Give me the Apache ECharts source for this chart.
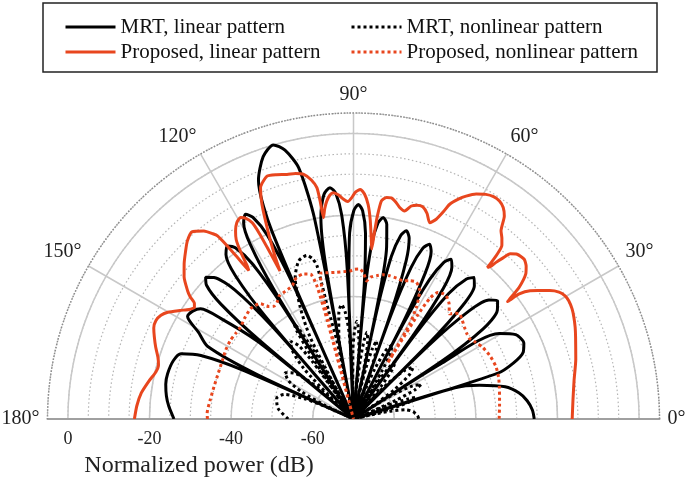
<!DOCTYPE html>
<html>
<head>
<meta charset="utf-8">
<script src="https://cdn.jsdelivr.net/npm/echarts@6/dist/echarts.min.js"></script>
<style>
html,body{margin:0;padding:0;background:#fff;}
#chart{width:692px;height:480px;}
</style>
</head>
<body>
<div id="chart"></div>
<script>
// ---- data: [angle (deg), normalized power (dB)] ----
const seriesNames = ['MRT, linear pattern', 'MRT, nonlinear pattern', 'Proposed, linear pattern', 'Proposed, nonlinear pattern'];
const angleTickLabels = [0, 30, 60, 90, 120, 150, 180];
const radialTickLabels = [0, -20, -40, -60];

const mrtLinear = [
  [180,-26],[176,-24.6],[173,-23.8],[169.5,-23.2],[166.3,-23.1],[162,-23.6],[159.3,-24.8],[157.4,-29.5],[156.2,-40],[155.7,-70],
  [155.2,-44],[153.5,-30],[150.8,-26.5],[148.3,-22.2],[146,-22.6],[144.2,-23.8],[142.7,-30],[141,-39.5],[140.6,-50],[140.4,-70],
  [140.1,-40],[139.1,-27],[137.7,-21.3],[136.2,-19.8],[134.6,-21.3],[132.6,-27],[131.3,-40],[131,-70],
  [130.7,-37.5],[129.5,-24.5],[127.8,-19],[126.1,-17.5],[124.6,-19],[123.1,-24.5],[122.1,-37.5],[121.8,-70],
  [121.6,-33.3],[120.6,-20.3],[119.2,-14.8],[117.8,-13.3],[116.5,-14.8],[115.1,-20.3],[114.2,-33.3],[114,-70],
  [113.5,-20],[111.7,-7],[109,-2],[106.3,0],[104.3,-2],[102.3,-7],[101,-20],[100.6,-70],
  [100.3,-33],[99.2,-20],[97.5,-14.5],[95.8,-13],[94.5,-14.5],[93.3,-20],[92.4,-33],[92.2,-70],
  [92,-37.4],[91.2,-24.4],[89.9,-18.9],[88.7,-17.4],[87.5,-18.9],[86.3,-24.4],[85.4,-37.4],[85.2,-70],
  [85,-40.1],[84.1,-27.1],[82.9,-21.6],[81.6,-20.1],[80.3,-21.6],[79.1,-27.1],[78.2,-40.1],[78,-70],
  [77.8,-42.1],[76.9,-29.1],[75.6,-23.6],[74.3,-22.1],[72.9,-23.6],[71.6,-29.1],[70.6,-42.1],[70.4,-70],
  [70.2,-43.3],[69.2,-30.3],[67.9,-24.8],[66.5,-23.3],[65.1,-24.8],[63.8,-30.3],[62.8,-43.3],[62.6,-70],
  [62.4,-44.1],[61.4,-31.1],[60,-25.6],[58.6,-24.1],[57.1,-25.6],[55.5,-31.1],[54.5,-44.1],[54.2,-70],
  [53.9,-44.4],[52.8,-31.4],[51.1,-25.9],[49.5,-24.4],[47.8,-25.9],[46.1,-31.4],[45,-44.4],[44.7,-70],
  [44.4,-44.3],[43.1,-31.3],[41.3,-25.8],[39.4,-24.3],[37.1,-25.8],[34.8,-31.3],[33.2,-44.3],[32.8,-70],
  [32.3,-44.3],[30.4,-28.6],[27.5,-25.2],[24,-24.3],[21.5,-25.3],[19.3,-28.5],[17.6,-33],[17.3,-70],
  [17.15,-44],[15,-38],[12,-32],[8.9,-28.9],[6,-27.2],[2.9,-26.1],[0,-25.7]
];

const mrtNonlinear = [
  [180,-54],[172,-51.3],[165,-50.5],[160.5,-52],[157.5,-57],[155.8,-64],[155,-70],
  [154.3,-62],[152.3,-55.5],[149.5,-51.5],[146,-49.7],[142.5,-51.5],[139.7,-55.5],[137.7,-62],[137,-70],
  [136.4,-62],[134.5,-52.5],[131.8,-47.5],[129,-45.5],[126.8,-47.5],[125.6,-52.5],[124.8,-62],[124.5,-70],
  [124.2,-58],[123.5,-49.5],[122.8,-44.5],[122,-42.5],[121.2,-44.5],[120.4,-49.5],[119.7,-58],[119.5,-70],
  [119.3,-60],[117.9,-47.3],[115.5,-39.7],[112.4,-32.5],[109.1,-29],[105.9,-28.3],[104.3,-29.5],[103.4,-31.4],[103.2,-36],[103,-42.7],[102,-50.3],[101.6,-62],[101.5,-70],
  [101.2,-58],[99.8,-48.8],[97.9,-43.8],[96,-41.8],[94.4,-43.8],[92.9,-48.8],[91.8,-58],[91.5,-70],
  [91.3,-62],[90.5,-53],[89.2,-48],[88,-46],[86.8,-48],[85.5,-53],[84.7,-62],[84.5,-70],
  [84.3,-63],[83.5,-55.5],[82.3,-50.5],[81.2,-48.5],[79.7,-50.5],[78.6,-55.5],[77.7,-63],[77.5,-70],
  [77.2,-64],[76.3,-57],[74.9,-52],[73.5,-50],[71.9,-52],[70.3,-57],[69.3,-64],[69,-70],
  [68.6,-64],[67,-56.5],[64.8,-51.5],[62.5,-49.5],[60.7,-51.5],[59.3,-56.5],[58.3,-64],[58,-70],
  [57.7,-65],[56.8,-59.5],[55.4,-54.5],[54,-52.5],[52,-54.5],[49.8,-59.5],[48.4,-65],[48,-70],
  [47.6,-65],[45.9,-57.6],[43.5,-52.6],[41,-50.6],[38.3,-52.6],[35.7,-57.6],[33.9,-65],[33.5,-70],
  [33.2,-65],[31.5,-58.4],[29.3,-53.4],[27,-51.4],[25.4,-53.4],[23.9,-58.4],[22.8,-65],[22.5,-70],
  [22.2,-66],[21.5,-60.7],[20.2,-55.7],[19,-53.7],[17,-55.7],[15,-60.7],[13.8,-66],[13.5,-70],
  [13.2,-66],[12,-61],[10,-57],[7,-55.3],[3,-54.3],[0,-54]
];

const proposedLinear = [
  [180,-16.3],[176.5,-16.8],[173,-17.6],[169.5,-19],[166.6,-20.2],[164.5,-20.4],[162.4,-19.7],[160,-18.4],[157.6,-17.2],[155.5,-16.2],
  [153.5,-15.9],[151.7,-16.4],[150.1,-17.5],[148,-19.8],[146.3,-21.6],[145,-22.4],[144,-21.8],[143.2,-20],[142.3,-18.6],[140,-15.8],
  [137.5,-13.7],[135,-11.8],[133,-10.3],[130.8,-9.4],[128.5,-11.1],[127.2,-13],[126.6,-14.1],[126.1,-17.5],[125.7,-21.2],[125.2,-25.5],
  [124.7,-24],[124,-20.5],[123.2,-17.5],[122.1,-15.6],[120.7,-14],[119.3,-13.4],[118.2,-14.2],[117.3,-15.9],[116.9,-19],[116.7,-22.9],
  [116.4,-29.5],[115.8,-26],[114.6,-20],[113.1,-12.8],[111.9,-8.9],[109.6,-6.8],[107.5,-7.2],[105.2,-7.9],[103.3,-8.2],[101.5,-8.8],
  [100,-10.5],[99,-12.6],[98.7,-16],[98.5,-20.1],[97.8,-18],[97,-16.2],[96,-14.8],[95.1,-14.3],[93.8,-15],[92.6,-16.1],
  [91.5,-16.7],[90.5,-15.8],[89.5,-14.4],[88.3,-13.7],[87.2,-14.8],[86.1,-17.3],[85.2,-21],[84.3,-26],[83.9,-28.1],[83.6,-24],
  [83.3,-20],[82.7,-16.1],[81.5,-15.1],[80.3,-15],[79,-15.8],[77.6,-17],[76.2,-17.5],[74.8,-15.9],[73.4,-15.3],[71.9,-15.3],
  [70.3,-16.5],[68.8,-18.4],[67.5,-17],[66.5,-14.5],[65.9,-12.4],[64.5,-10.3],[63.2,-8.8],[61.4,-7.2],[59.5,-6.1],[57.8,-5.6],
  [56.2,-5.7],[54.7,-6.5],[53.4,-8],[51.9,-11.4],[50.6,-12.7],[49.5,-14],[48.9,-16.5],[48.5,-20.5],[48,-19.5],[47.7,-18.1],
  [47.1,-16],[46.5,-14.2],[45.2,-13.1],[43.1,-12.7],[41.5,-13.5],[40.1,-14.8],[38.5,-18.1],[37.6,-21.5],[37.3,-22.5],[37.05,-19.1],
  [36,-16.5],[34.7,-14.7],[33.2,-12.5],[31.7,-10.8],[30.2,-10],[28.8,-9.8],[26.8,-10],[24.8,-10.5],[22.5,-11.2],[20.2,-12],
  [15,-13.6],[10,-15.1],[5,-16],[0,-16.4]
];

const proposedNonlinear = [
  [180,-34.2],[177.8,-34.1],[172,-34.6],[167,-34.9],[161,-35],[155.9,-34.8],[151.5,-34.4],[147.4,-34.2],[144,-34.3],[140.9,-34.3],
  [137,-33.6],[133.1,-33],[130.8,-33.2],[128.9,-33.7],[127,-35.5],[125,-36.2],[123.2,-35.8],[121.3,-34.8],[119.2,-34.6],[116.8,-34.4],
  [114.5,-34],[113.4,-33.2],[111.8,-32.6],[109,-32.4],[106.5,-33],[105.4,-36],[104.9,-45],[104.8,-70],[104.4,-45],[103.7,-37.5],
  [102.9,-33.5],[100,-33.6],[96.5,-33.8],[93.8,-33.8],[91.3,-33.7],[89.5,-33.3],[87.5,-33.2],[85.8,-34.5],[84.6,-36],[83.2,-35],
  [80.8,-34.4],[78.3,-33.9],[75.8,-33.8],[73,-33.9],[70.3,-34],[67.8,-33.4],[65.3,-33.1],[62.7,-34.6],[60.6,-38.6],[59.4,-42.9],
  [58.9,-51],[58.7,-54],[58.5,-48],[58.3,-40],[57.7,-35],[56.3,-32.7],[54.7,-32.3],[53.1,-32.2],[50.5,-33.2],[47.6,-35.1],
  [46,-34],[44.8,-33.4],[42.2,-34],[39.6,-34.7],[37.1,-35.2],[34.7,-35.4],[32,-34.6],[29.1,-33.8],[24.5,-33.1],[20.1,-32.8],
  [16,-33],[12.4,-33.4],[6,-34],[0,-34.3]
];

const RED = '#e8461e';
const FONT = '"Liberation Serif", "DejaVu Serif", serif';
const toPolar = arr => arr.map(p => [p[1], p[0]]);

const chart = echarts.init(document.getElementById('chart'), null, {renderer: 'canvas'});
const C = [353.5, 419];
const hidden = {axisLine:{show:false}, axisTick:{show:false}, axisLabel:{show:false}, splitLine:{show:false}};
const legendCommon = {orient: 'vertical', top: 16, padding: 0, itemWidth: 50, itemHeight: 14, itemGap: 3,
  selectedMode: false, itemStyle: {opacity: 0}, lineStyle: {width: 3},
  textStyle: {fontFamily: FONT, fontSize: 21, color: '#111', lineHeight: 22}};

chart.setOption({
  animation: false,
  backgroundColor: '#fff',
  polar: [
    {center: C, radius: [0, 306]},
    {center: C, radius: [40.8, 285.6]},
    {center: C, radius: [0, 306]}
  ],
  angleAxis: [
    {polarIndex: 0, type: 'value', min: 0, max: 180, interval: 30, startAngle: 0, endAngle: 180, clockwise: false,
     axisLine: {show: true, lineStyle: {color: '#8c8c8c', width: 1.5, type: 'dotted'}},
     axisTick: {show: false},
     axisLabel: {show: true, margin: 8, color: '#222', fontFamily: FONT, fontSize: 20,
                 formatter: v => angleTickLabels.indexOf(v) >= 0 ? v + '°' : ''},
     splitLine: {show: true, lineStyle: {color: '#c8c8c8', width: 1.5}}},
    Object.assign({polarIndex: 1, type: 'value', min: 0, max: 180, startAngle: 0, endAngle: 180, clockwise: false}, hidden),
    Object.assign({polarIndex: 2, type: 'value', min: 0, max: 180, startAngle: 180, endAngle: 0, clockwise: true}, hidden)
  ],
  radiusAxis: [
    {polarIndex: 0, type: 'value', min: -70, max: 5, interval: 5,
     axisLine: {show: true, lineStyle: {color: '#a0a0a0', width: 2}},
     axisTick: {show: false}, axisLabel: {show: false},
     splitLine: {show: true, lineStyle: {color: '#b4b4b4', width: 1.2, type: [1.5, 2.5]}}},
    {polarIndex: 1, type: 'value', min: -60, max: 0, interval: 20,
     axisLine: {show: false}, axisTick: {show: false}, axisLabel: {show: false},
     splitLine: {show: true, lineStyle: {color: '#c8c8c8', width: 1.5}}},
    {polarIndex: 2, type: 'value', min: -70, max: 5, interval: 10,
     axisLine: {show: true, lineStyle: {color: '#a0a0a0', width: 2}},
     axisTick: {show: false}, splitLine: {show: false},
     axisLabel: {show: true, margin: 11, color: '#222', fontFamily: FONT, fontSize: 18,
                 formatter: v => radialTickLabels.indexOf(v) >= 0 ? String(v) : ''}}
  ],
  legend: [
    Object.assign({data: [seriesNames[0], seriesNames[2]], left: 64}, legendCommon),
    Object.assign({data: [seriesNames[1], seriesNames[3]], left: 350}, legendCommon)
  ],
  graphic: [
    {type: 'rect', z: 0, shape: {x: 43, y: 3, width: 614, height: 69},
     style: {fill: '#fff', stroke: '#222', lineWidth: 1.5}},
    {type: 'text', x: 199, y: 466,
     style: {text: 'Normalized power (dB)', font: '24px ' + FONT, fill: '#222', align: 'center', verticalAlign: 'middle'}}
  ],
  series: [
    {name: seriesNames[0], type: 'line', coordinateSystem: 'polar', polarIndex: 0, data: toPolar(mrtLinear),
     symbol: 'none', smooth: 0.25, lineStyle: {color: '#000', width: 3}, itemStyle: {color: '#000'}},
    {name: seriesNames[1], type: 'line', coordinateSystem: 'polar', polarIndex: 0, data: toPolar(mrtNonlinear),
     symbol: 'none', smooth: 0.25, lineStyle: {color: '#000', width: 3, type: 'dotted'}, itemStyle: {color: '#000'}},
    {name: seriesNames[2], type: 'line', coordinateSystem: 'polar', polarIndex: 0, data: toPolar(proposedLinear),
     symbol: 'none', smooth: 0.2, lineStyle: {color: RED, width: 3}, itemStyle: {color: RED}},
    {name: seriesNames[3], type: 'line', coordinateSystem: 'polar', polarIndex: 0, data: toPolar(proposedNonlinear),
     symbol: 'none', smooth: 0.2, lineStyle: {color: RED, width: 3, type: 'dotted'}, itemStyle: {color: RED}}
  ]
});
</script>
</body>
</html>
